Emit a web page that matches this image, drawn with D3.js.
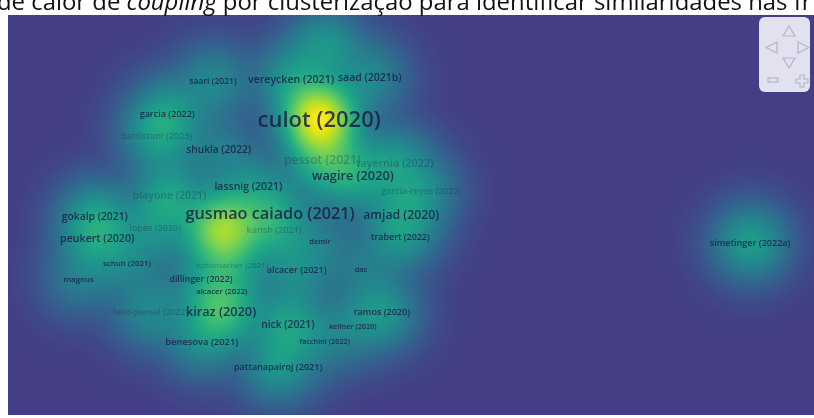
<!DOCTYPE html>
<html>
<head>
<meta charset="utf-8">
<script src="https://cdn.jsdelivr.net/npm/d3@7"></script>
<style>
  body { margin: 0; background: #fff; }
  #wrap { position: relative; width: 814px; height: 418px; overflow: hidden; }
  #wrap canvas, #wrap svg { position: absolute; left: 0; top: 0; }
</style>
</head>
<body>
<div id="wrap"></div>
<script>
// items of the coupling map (map coordinates, x 0-100, y 0-50)
var labels = ['culot (2020)', 'gusmao caiado (2021)', 'wagire (2020)', 'pessot (2021)', 'tayernia (2022)',
  'vereycken (2021)', 'saad (2021b)', 'saari (2021)', 'garcia (2022)', 'battistoni (2023)',
  'shukla (2022)', 'blayone (2021)', 'lassnig (2021)', 'amjad (2020)', 'garcia-reyes (2022)',
  'gokalp (2021)', 'peukert (2020)', 'lopes (2020)', 'kansh (2021)', 'demir',
  'trabert (2022)', 'schuh (2021)', 'schumacher (2021)', 'alcacer (2021)', 'das',
  'magnus', 'dillinger (2022)', 'alcacer (2022)', 'hein-pensel (2022)', 'kiraz (2020)',
  'ramos (2020)', 'nick (2021)', 'kellner (2020)', 'benesova (2021)', 'facchini (2022)',
  'pattanapairoj (2021)', 'simetinger (2022a)', 'mueller (2021)', 'ghobakhloo (2022)'];
var mapX = [38.7, 32.6, 42.9, 39.1, 48.1,
  35.2, 45.0, 25.5, 19.8, 18.5,
  26.2, 20.1, 29.9, 48.9, 51.4,
  10.8, 11.1, 18.3, 33.1, 38.8,
  48.8, 14.8, 27.9, 35.9, 43.9,
  8.8, 24.0, 26.6, 17.7, 26.5,
  46.5, 34.8, 42.9, 24.1, 39.4,
  33.6, 92.3, 26.6, 39.4];
var mapY = [12.9, 24.75, 20.0, 18.1, 18.4,
  8.0, 7.75, 8.25, 12.25, 15.1,
  16.75, 22.5, 21.4, 24.9, 22.0,
  25.1, 27.9, 26.6, 26.75, 28.25,
  27.75, 31.0, 31.25, 31.75, 31.75,
  33.0, 33.0, 34.5, 37.1, 37.0,
  37.1, 38.6, 38.9, 40.75, 40.75,
  43.9, 28.4, 26.75, 3.75];
// citations -> label size, strength -> density
var citations = [100, 64, 42, 38, 30,
  29, 28, 16, 19, 19,
  26, 28, 28, 39, 18,
  27, 29, 19, 19, 9,
  18, 12, 12, 19, 9,
  12, 18, 11, 16, 42,
  19, 27, 8, 21, 8,
  19, 19, 40, 20];
var strength = [10, 2, 2.5, 3, 2,
  2, 1.5, 1.5, 2, 2,
  1, 2.5, 1.5, 1.5, 1.5,
  2, 2, 1.5, 1.5, 0.8,
  1.5, 1, 1.5, 1.5, 0.8,
  1, 1, 1, 1.5, 3.5,
  2, 2.5, 0.8, 1.5, 0.8,
  2, 2.5, 7, 2];
// label state: 1 shown, 0.5 faded (overlap), 0 hidden
var labelState = [1, 1, 1, 0.5, 0.5,
  1, 1, 1, 1, 0.5,
  1, 0.5, 1, 1, 0.5,
  1, 1, 0.5, 0.5, 1,
  1, 1, 0.5, 1, 1,
  1, 1, 1, 0.5, 1,
  1, 1, 1, 1, 1,
  1, 1, 0, 0];

var caption = ['de calor de ', 'coupling', ' por clusterização para identificar similaridades nas fr'];

var W = 814, H = 418;
var panel = { left: 8, top: 15, right: 814, bottom: 415 };
var pw = panel.right - panel.left, ph = panel.bottom - panel.top;

var xScale = d3.scaleLinear().domain([0, 100]).range([panel.left, panel.left + 804]);
var yScale = d3.scaleLinear().domain([0, 50]).range([panel.top, panel.top + 400]);
var fontScale = d3.scaleLinear().domain([0, 100]).range([6, 22]);

var items = labels.map(function(l, i) {
  return { label: l, x: xScale(mapX[i]), y: yScale(mapY[i]), c: citations[i], s: strength[i], st: labelState[i] };
});

// density surface
var sigma = 22;
var grid = new Float32Array(pw * ph);
var dmax = 0;
for (var py = 0; py < ph; py++) {
  for (var px = 0; px < pw; px++) {
    var gx = px + panel.left, gy = py + panel.top, v = 0;
    for (var k = 0; k < items.length; k++) {
      var dx = gx - items[k].x, dy = gy - items[k].y;
      var r2 = dx * dx + dy * dy;
      if (r2 < 16 * sigma * sigma) v += items[k].s * Math.exp(-r2 / (2 * sigma * sigma));
    }
    grid[py * pw + px] = v;
    if (v > dmax) dmax = v;
  }
}
var tScale = d3.scalePow().exponent(0.55).domain([0, dmax]).range([0.18, 1]).clamp(true);

var canvas = d3.select('#wrap').append('canvas').attr('width', W).attr('height', H);
var ctx = canvas.node().getContext('2d');
ctx.fillStyle = '#fff';
ctx.fillRect(0, 0, W, H);
var img = ctx.createImageData(pw, ph);
for (var i = 0; i < grid.length; i++) {
  var col = d3.rgb(d3.interpolateViridis(tScale(grid[i])));
  img.data[i * 4] = col.r;
  img.data[i * 4 + 1] = col.g;
  img.data[i * 4 + 2] = col.b;
  img.data[i * 4 + 3] = 255;
}
ctx.putImageData(img, panel.left, panel.top);

var svg = d3.select('#wrap').append('svg').attr('width', W).attr('height', H);

// caption (cut by the top of the screenshot)
var cap = svg.append('text')
  .attr('x', -3).attr('y', 9.5)
  .style('font-family', '"Open Sans", sans-serif')
  .style('font-size', '23.9px')
  .attr('fill', '#111');
cap.selectAll('tspan').data(caption).enter().append('tspan')
  .style('font-style', function(d, i) { return i === 1 ? 'italic' : 'normal'; })
  .text(function(d) { return d; });

// labels
svg.append('g').selectAll('text')
  .data(items.filter(function(d) { return d.st > 0; }))
  .enter().append('text')
  .attr('x', function(d) { return d.x; })
  .attr('y', function(d) { return d.y; })
  .attr('text-anchor', 'middle')
  .attr('dominant-baseline', 'central')
  .style('font-family', '"Open Sans", sans-serif')
  .style('font-weight', 600)
  .style('font-size', function(d) { return fontScale(d.c) + 'px'; })
  .attr('fill', '#1b1d45')
  .attr('fill-opacity', function(d) { return d.st === 1 ? 0.85 : 0.3; })
  .text(function(d) { return d.label; });

// navigation control
var nav = svg.append('g');
nav.append('rect')
  .attr('x', 759).attr('y', 17).attr('width', 51).attr('height', 75).attr('rx', 6)
  .attr('fill', '#e2e1f0');
var navStroke = '#b5b4c8';
var tri = [
  [[783, 36], [789, 26], [795, 36]],
  [[777, 42], [766, 47.5], [777, 53]],
  [[798, 42], [809, 47.5], [798, 53]],
  [[783, 58], [789, 68], [795, 58]]
];
nav.selectAll('path.tri').data(tri).enter().append('path')
  .attr('class', 'tri')
  .attr('d', function(d) { return d3.line()(d) + 'Z'; })
  .attr('fill', 'none').attr('stroke', navStroke).attr('stroke-width', 1.2);
nav.append('rect').attr('x', 768).attr('y', 78).attr('width', 10).attr('height', 4)
  .attr('fill', 'none').attr('stroke', navStroke).attr('stroke-width', 1.2);
nav.append('path')
  .attr('d', 'M800,75h4v4h4v4h-4v4h-4v-4h-4v-4h4z')
  .attr('fill', 'none').attr('stroke', navStroke).attr('stroke-width', 1.2);
</script>
</body>
</html>
